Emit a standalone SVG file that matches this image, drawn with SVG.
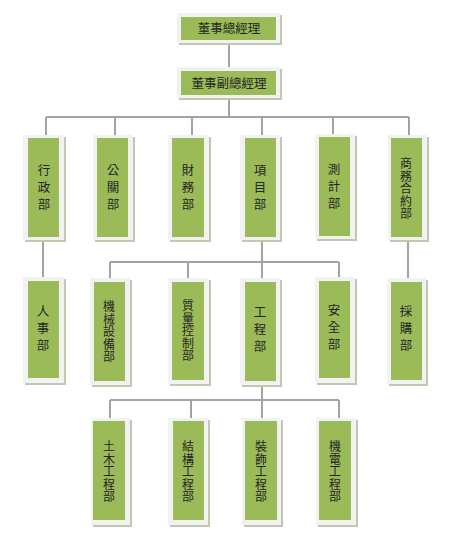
<svg xmlns="http://www.w3.org/2000/svg" width="456" height="533" viewBox="0 0 456 533">
<style>
.sh{fill:#c2c6b2}
.fr{fill:#f2f2f2}
.gr{fill:#9bbb59}
.t{font-family:"Noto Sans CJK TC","Noto Sans CJK SC",sans-serif;font-size:12.5px;fill:#262626;text-anchor:middle}
.v{writing-mode:vertical-rl;letter-spacing:4.5px}
.s{writing-mode:vertical-rl;font-size:12px;letter-spacing:0.5px}
.c{stroke:#a3a3a3;stroke-width:2;fill:none}
</style>
<rect width="456" height="533" fill="#ffffff"/>
<g id="connectors">
<path class="c" d="M229,43V67M229,98V117M46,117H409M46,117V135M115,117V135M192,117V135M262,117V135M333,117V135M409,117V135"/>
<path class="c" d="M43,240V278M408,240V278M262,240V278M110,262H339M110,262V278M188,262V278M339,262V278"/>
<path class="c" d="M262,385V418M110,400H339M110,400V418M191,400V418M262,400V418M339,400V418"/>
</g>
<g id="n1"><rect class="sh" x="179" y="15" width="103" height="30"/><rect class="fr" x="177" y="13" width="103" height="30"/><rect class="gr" x="181" y="17" width="95" height="23"/><text class="t" x="229" y="33">董事總經理</text></g>
<g id="n2"><rect class="sh" x="179" y="69" width="103" height="31"/><rect class="fr" x="177" y="67" width="103" height="31"/><rect class="gr" x="181" y="71" width="95" height="24"/><text class="t" x="229" y="88">董事副總經理</text></g>

<g id="n3"><rect class="sh" x="25" y="137" width="41" height="105"/><rect class="fr" x="23" y="135" width="41" height="105"/><rect class="gr" x="28" y="138" width="31" height="99"/><text class="t v" x="44" y="189">行政部</text></g>
<g id="n4"><rect class="sh" x="95" y="137" width="40" height="105"/><rect class="fr" x="93" y="135" width="40" height="105"/><rect class="gr" x="97" y="138" width="31" height="99"/><text class="t v" x="113" y="189">公關部</text></g>
<g id="n5"><rect class="sh" x="170" y="137" width="41" height="105"/><rect class="fr" x="168" y="135" width="41" height="105"/><rect class="gr" x="172" y="138" width="32" height="99"/><text class="t v" x="188" y="189">財務部</text></g>
<g id="n6"><rect class="sh" x="242" y="137" width="40" height="105"/><rect class="fr" x="240" y="135" width="40" height="105"/><rect class="gr" x="245" y="138" width="31" height="99"/><text class="t v" x="260" y="189">項目部</text></g>
<g id="n7"><rect class="sh" x="317" y="136" width="40" height="105"/><rect class="fr" x="315" y="134" width="40" height="105"/><rect class="gr" x="319" y="137" width="31" height="99"/><text class="t v" x="334" y="188">測計部</text></g>
<g id="n8"><rect class="sh" x="390" y="137" width="39" height="105"/><rect class="fr" x="388" y="135" width="39" height="105"/><rect class="gr" x="391" y="138" width="31" height="99"/><text class="t s" x="406" y="189">商務合約部</text></g>

<g id="n9"><rect class="sh" x="25" y="279" width="41" height="106"/><rect class="fr" x="23" y="277" width="41" height="106"/><rect class="gr" x="28" y="281" width="31" height="97"/><text class="t v" x="43" y="330">人事部</text></g>
<g id="n10"><rect class="sh" x="92" y="280" width="40" height="107"/><rect class="fr" x="90" y="278" width="40" height="107"/><rect class="gr" x="94" y="282" width="31" height="99"/><text class="t s" x="109" y="332">機械設備部</text></g>
<g id="n11"><rect class="sh" x="170" y="280" width="41" height="106"/><rect class="fr" x="168" y="278" width="41" height="106"/><rect class="gr" x="172" y="282" width="32" height="98"/><text class="t s" x="188" y="331">質量控制部</text></g>
<g id="n12"><rect class="sh" x="242" y="280" width="40" height="107"/><rect class="fr" x="240" y="278" width="40" height="107"/><rect class="gr" x="245" y="282" width="31" height="99"/><text class="t v" x="260" y="331">工程部</text></g>
<g id="n13"><rect class="sh" x="317" y="279" width="40" height="106"/><rect class="fr" x="315" y="277" width="40" height="106"/><rect class="gr" x="319" y="281" width="31" height="97"/><text class="t v" x="334" y="329">安全部</text></g>
<g id="n14"><rect class="sh" x="389" y="280" width="39" height="106"/><rect class="fr" x="387" y="278" width="39" height="106"/><rect class="gr" x="391" y="282" width="31" height="98"/><text class="t v" x="406" y="330">採購部</text></g>

<g id="n15"><rect class="sh" x="93" y="420" width="39" height="107"/><rect class="fr" x="91" y="418" width="39" height="107"/><rect class="gr" x="93" y="421" width="32" height="99"/><text class="t s" x="109" y="472">土木工程部</text></g>
<g id="n16"><rect class="sh" x="170" y="420" width="40" height="107"/><rect class="fr" x="168" y="418" width="40" height="107"/><rect class="gr" x="173" y="421" width="31" height="99"/><text class="t s" x="188" y="472">結構工程部</text></g>
<g id="n17"><rect class="sh" x="244" y="420" width="39" height="107"/><rect class="fr" x="242" y="418" width="39" height="107"/><rect class="gr" x="245" y="421" width="32" height="99"/><text class="t s" x="261" y="472">裝飾工程部</text></g>
<g id="n18"><rect class="sh" x="318" y="420" width="40" height="107"/><rect class="fr" x="316" y="418" width="40" height="107"/><rect class="gr" x="319" y="421" width="32" height="99"/><text class="t s" x="335" y="472">機電工程部</text></g>
</svg>
